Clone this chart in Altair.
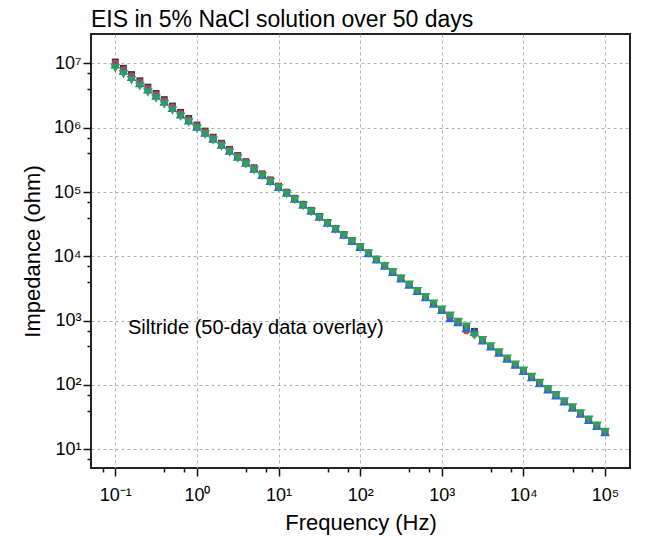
import json
import altair as alt
import pandas as pd

FONT = "Liberation Sans"

freq = [0.1, 0.126, 0.158, 0.2, 0.251, 0.316, 0.398, 0.501, 0.631, 0.794,
        1, 1.26, 1.58, 2, 2.51, 3.16, 3.98, 5.01, 6.31, 7.94,
        10, 12.6, 15.8, 20, 25.1, 31.6, 39.8, 50.1, 63.1, 79.4,
        100, 126, 158, 200, 251, 316, 398, 501, 631, 794,
        1000, 1260, 1580, 2000, 2510, 3160, 3980, 5010, 6310, 7940,
        10000, 12600, 15800, 20000, 25100, 31600, 39800, 50100, 63100, 79400, 100000]

z_black = [1.05e7, 8.38e6, 6.70e6, 5.35e6, 4.27e6, 3.41e6, 2.73e6, 2.17e6, 1.73e6, 1.39e6,
           1.10e6, 8.85e5, 7.11e5, 5.72e5, 4.60e5, 3.69e5, 2.96e5, 2.38e5, 1.91e5, 1.54e5,
           1.23e5, 9.91e4, 7.98e4, 6.43e4, 5.18e4, 4.17e4, 3.36e4, 2.70e4, 2.18e4, 1.75e4,
           1.41e4, 1.13e4, 8990, 7180, 5730, 4570, 3650, 2910, 2320, 1850,
           1480, 1200, 955, 770, 680, 495, 398, 320, 257, 207,
           166, 133, 107, 86.1, 69.2, 55.6, 44.7, 35.9, 28.8, 23.2, 18.6]

z_red = [1.01e7, 8.02e6, 6.41e6, 5.13e6, 4.10e6, 3.28e6, 2.62e6, 2.09e6, 1.67e6, 1.34e6,
         1.07e6, 8.63e5, 6.95e5, 5.60e5, 4.51e5, 3.63e5, 2.92e5, 2.36e5, 1.90e5, 1.53e5,
         1.23e5, 9.91e4, 7.98e4, 6.43e4, 5.18e4, 4.17e4, 3.36e4, 2.70e4, 2.18e4, 1.75e4,
         1.41e4, 1.13e4, 8990, 7180, 5730, 4570, 3650, 2910, 2320, 1850,
         1480, 1190, 955, 690, 617, 495, 398, 320, 257, 207,
         166, 133, 107, 86.1, 69.2, 55.6, 44.7, 35.9, 28.8, 23.2, 18.6]

z_blue = [9.65e6, 7.75e6, 6.20e6, 4.96e6, 3.97e6, 3.17e6, 2.54e6, 2.03e6, 1.62e6, 1.30e6,
          1.04e6, 8.40e5, 6.77e5, 5.46e5, 4.40e5, 3.55e5, 2.86e5, 2.31e5, 1.86e5, 1.50e5,
          1.21e5, 9.85e4, 7.94e4, 6.40e4, 5.16e4, 4.16e4, 3.35e4, 2.70e4, 2.18e4, 1.75e4,
          1.41e4, 1.13e4, 8990, 7180, 5730, 4570, 3650, 2910, 2320, 1850,
          1480, 1100, 955, 767, 680, 495, 398, 320, 257, 207,
          166, 133, 107, 86.1, 69.2, 55.6, 44.7, 35.9, 28.8, 23.2, 18.6]

z_green = [8.40e6, 6.77e6, 5.45e6, 4.39e6, 3.53e6, 2.84e6, 2.30e6, 1.84e6, 1.48e6, 1.20e6,
           9.63e5, 7.79e5, 6.30e5, 5.09e5, 4.11e5, 3.32e5, 2.68e5, 2.17e5, 1.76e5, 1.42e5,
           1.14e5, 9.26e4, 7.49e4, 6.06e4, 4.90e4, 3.96e4, 3.21e4, 2.59e4, 2.10e4, 1.69e4,
           1.37e4, 1.10e4, 8770, 7030, 5630, 4500, 3610, 2880, 2310, 1840,
           1480, 1190, 955, 807, 585, 495, 398, 320, 257, 207,
           166, 133, 107, 86.1, 69.2, 55.6, 44.7, 35.9, 28.8, 23.2, 18.6]

series_values = [z_black, z_red, z_blue, z_green]
series_colors = ["#3a3a3a", "#e8403b", "#2f66d0", "#2ea05c"]
series_shapes = ["square", "circle", "triangle-up", "triangle-down"]
series_sizes = [48, 45, 95, 95]

x_tick_values = [0.07, 0.1, 0.4, 0.7, 1, 4, 7, 10, 40, 70, 100, 400, 700,
                 1000, 4000, 7000, 10000, 40000, 70000, 100000]
x_tick_labels = ["10⁻¹", "10⁰", "10¹", "10²", "10³", "10⁴", "10⁵"]
x_first_exp = -1
y_tick_values = [7, 10, 40, 70, 100, 400, 700, 1000, 4000, 7000, 10000, 40000, 70000,
                 100000, 400000, 700000, 1e6, 4e6, 7e6, 1e7]
y_tick_labels = ["10¹", "10²", "10³", "10⁴", "10⁵", "10⁶", "10⁷"]
y_first_exp = 1

annotation = "Siltride (50-day data overlay)"
ann_x = [0.143]
ann_y = [621]

ann_df = pd.DataFrame({"f": ann_x, "z": ann_y, "label": [annotation]})

EXP = "log(datum.value)/LN10"
MAJOR = f"abs({EXP} - round({EXP})) < 0.01"


def label_expr(labels, first):
    arr = json.dumps(labels, ensure_ascii=False)
    return f"{MAJOR} ? {arr}[round({EXP}) - ({first})] : ''"


tick_size = {"condition": {"test": MAJOR, "value": 8}, "value": 4}
grid_op = {"condition": {"test": MAJOR, "value": 1}, "value": 0}

x_scale = alt.Scale(type="log", domain=[0.0504, 202300], nice=False)
y_scale = alt.Scale(type="log", domain=[5.12, 2.86e7], nice=False)

x_axis = alt.Axis(values=x_tick_values, labelExpr=label_expr(x_tick_labels, x_first_exp),
                  tickSize=tick_size, gridOpacity=grid_op, labelPadding=10,
                  labelBaseline="top", titleX=269.5, titleY=61,
                  titleBaseline="alphabetic", titleAlign="center")
y_axis = alt.Axis(values=y_tick_values, labelExpr=label_expr(y_tick_labels, y_first_exp),
                  tickSize=tick_size, gridOpacity=grid_op, labelPadding=2,
                  labelBaseline="middle", titleX=-59, titleY=217, titleAngle=270,
                  titleBaseline="middle", titleAlign="center")

layers = []
for k, (vals, col, shp, sz) in enumerate(zip(series_values, series_colors,
                                             series_shapes, series_sizes)):
    d = pd.DataFrame({"f": freq, "z": vals})
    if k == 0:
        xe = alt.X("f:Q", scale=x_scale, axis=x_axis, title="Frequency (Hz)")
        ye = alt.Y("z:Q", scale=y_scale, axis=y_axis, title="Impedance (ohm)")
    else:
        xe = alt.X("f:Q", scale=x_scale)
        ye = alt.Y("z:Q", scale=y_scale)
    layers.append(
        alt.Chart(d).mark_point(filled=True, opacity=1, shape=shp, size=sz,
                                color=col).encode(x=xe, y=ye)
    )

text = alt.Chart(ann_df).mark_text(align="left", baseline="alphabetic", fontSize=20,
                                   font=FONT, color="black").encode(
    x=alt.X("f:Q", scale=x_scale),
    y=alt.Y("z:Q", scale=y_scale),
    text="label:N",
)

chart = alt.layer(*layers, text).properties(
    width=539,
    height=434,
    padding={"left": 83, "top": 26, "right": 11, "bottom": 70},
    autosize=alt.AutoSizeParams(type="none"),
    title=alt.TitleParams("EIS in 5% NaCl solution over 50 days", anchor="start",
                          frame="group", fontSize=23, font=FONT, fontWeight="normal",
                          color="black", baseline="top", offset=2),
).configure_view(stroke="#222222", strokeWidth=2).configure_axis(
    domain=False, grid=True, gridColor="#b0b0b0", gridDash=[3, 3], gridWidth=1,
    tickColor="#111111", tickWidth=1.5, labelFont=FONT, labelFontSize=18,
    labelColor="black", labelOverlap=False, labelFlush=False, titleFont=FONT,
    titleFontSize=22, titleFontWeight="normal", titleColor="black",
)

chart.save("out.html", embed_options={"renderer": "svg", "actions": False})
